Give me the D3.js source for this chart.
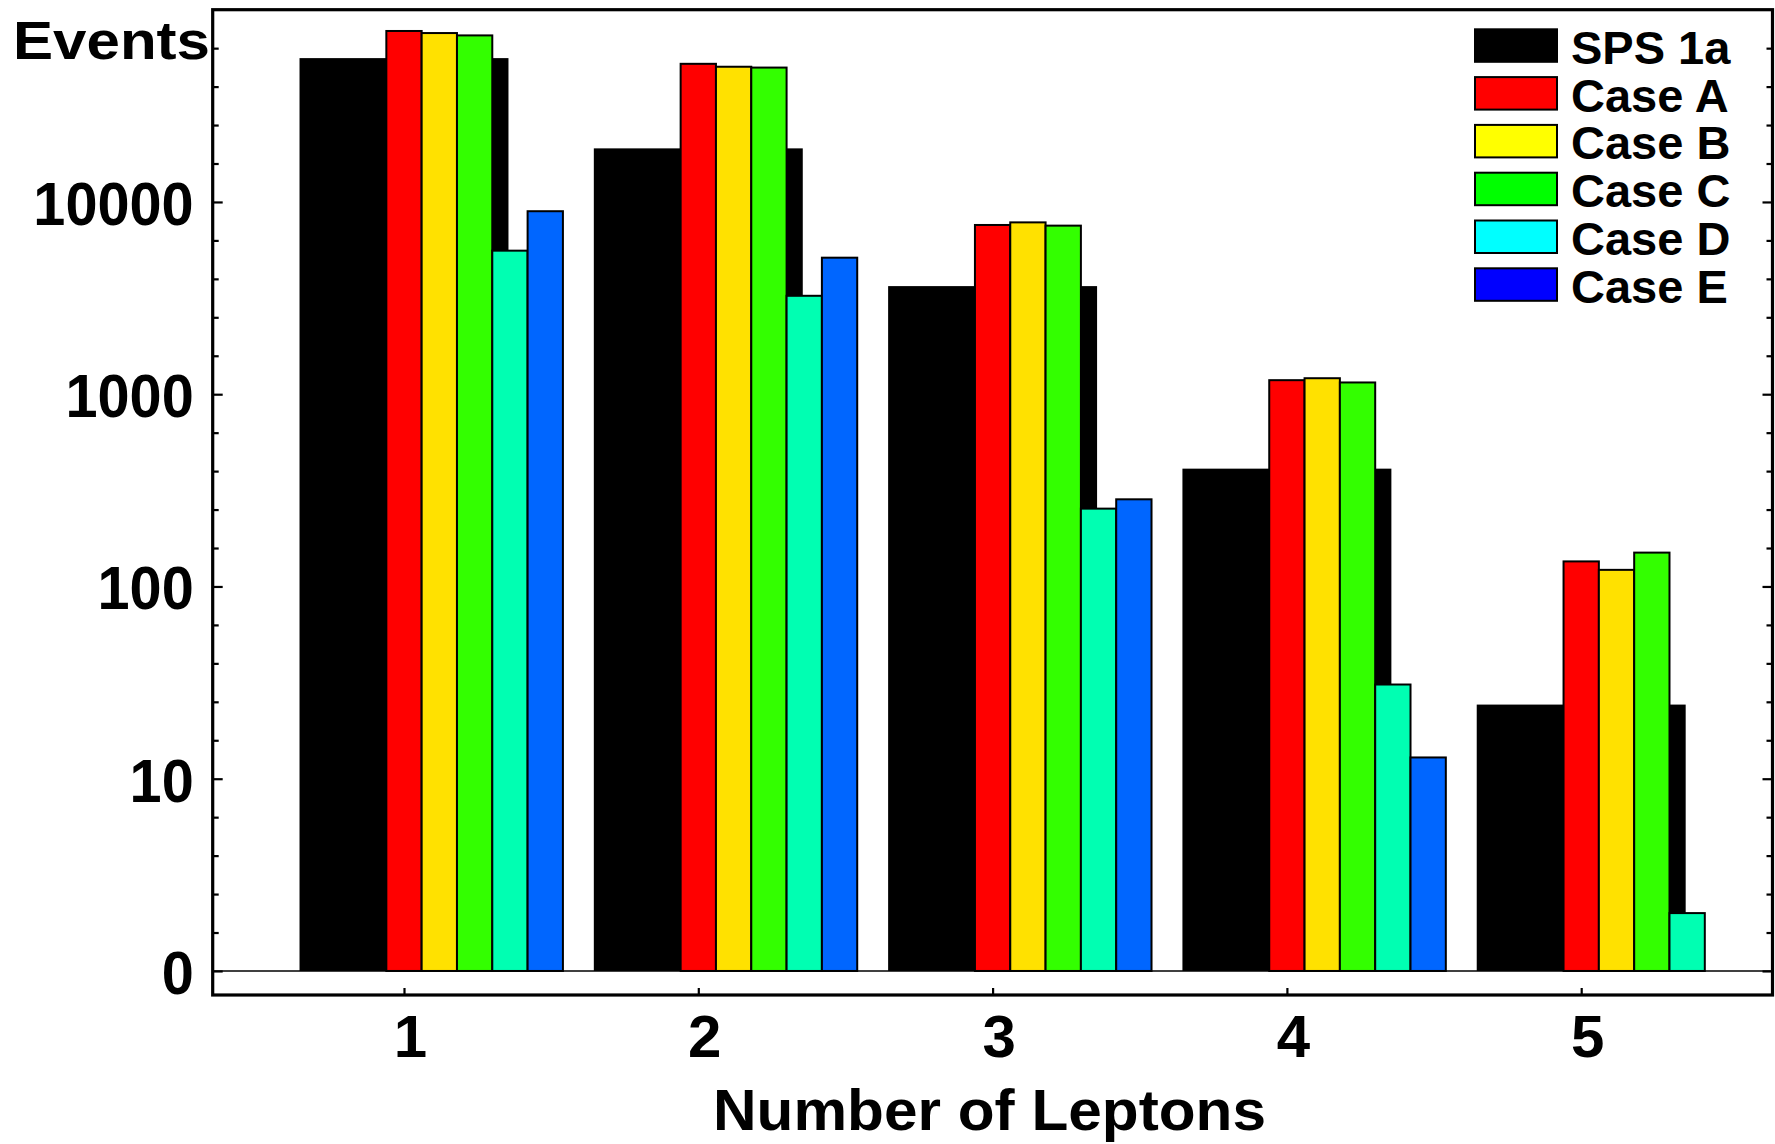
<!DOCTYPE html>
<html>
<head>
<meta charset="utf-8">
<script src="https://cdn.jsdelivr.net/npm/d3@7"></script>
<style>
  html, body { margin: 0; padding: 0; background: #fff; }
  svg { display: block; }
  text { font-family: "Liberation Sans", Arial, Helvetica, sans-serif; font-weight: bold; fill: #000; }
</style>
</head>
<body>
<svg id="chart" width="1775" height="1144"></svg>
<script>
// Lepton multiplicity: number of events per scenario
const leptonCounts = [1, 2, 3, 4, 5];
const seriesNames = ["SPS 1a", "Case A", "Case B", "Case C", "Case D", "Case E"];
const sps1a = [56000, 19000, 3650, 410, 24.3];
const caseA = [77500, 52300, 7590, 1183, 135];
const caseB = [75600, 50500, 7830, 1211, 122];
const caseC = [73500, 50000, 7530, 1151, 150];
const caseD = [5580, 3250, 254, 30.9, 2];
const caseE = [8950, 5130, 284, 12.9, 0];
const yMajorTicks = [1, 10, 100, 1000, 10000];
const yTickLabels = ["0", "10", "100", "1000", "10000"];

// fill colours of the bars and of the legend swatches
const barColors = ["#000000", "#ff0000", "#ffe100", "#33ff00", "#00ffb2", "#0066ff"];
const legendColors = ["#000000", "#ff0000", "#ffff00", "#00ff00", "#00ffff", "#0000ff"];

const svg = d3.select("#chart");
const frame = { left: 212.7, right: 1772.5, top: 9.7, bottom: 995 };

const x = d3.scaleLinear().domain([0.35, 5.65]).range([frame.left, frame.right]);
const y = d3.scaleLog().domain([Math.pow(10, -0.125), 1e5]).range([frame.bottom, frame.top]);

// minor ticks: five per decade, evenly spaced in log
const yMinorTicks = [];
for (let e = 0; e < 5; e++) for (let j = 1; j < 5; j++) yMinorTicks.push(Math.pow(10, e + j / 5));

const blackWidth = 0.71, colWidth = 0.12;

// SPS 1a bars: wide black bars behind the others
svg.append("g").selectAll("rect")
  .data(leptonCounts.map((n, i) => ({ n, v: sps1a[i] })).filter(d => d.v > 1))
  .join("rect")
  .attr("x", d => x(d.n - blackWidth / 2))
  .attr("width", d => x(d.n + blackWidth / 2) - x(d.n - blackWidth / 2))
  .attr("y", d => y(d.v))
  .attr("height", d => y(1) - y(d.v))
  .attr("fill", barColors[0]);

// Cases A-E: narrow outlined bars, side by side starting at the category
const cases = [caseA, caseB, caseC, caseD, caseE];
cases.forEach((vals, s) => {
  svg.append("g").selectAll("rect")
    .data(leptonCounts.map((n, i) => ({ n, v: vals[i] })).filter(d => d.v > 1))
    .join("rect")
    .attr("x", d => x(d.n - colWidth / 2 + s * colWidth))
    .attr("width", d => x(d.n + colWidth / 2 + s * colWidth) - x(d.n - colWidth / 2 + s * colWidth))
    .attr("y", d => y(d.v))
    .attr("height", d => y(1) - y(d.v))
    .attr("fill", barColors[s + 1])
    .attr("stroke", "#000")
    .attr("stroke-width", 2);
});

// zero line
svg.append("line")
  .attr("x1", frame.left).attr("x2", frame.right)
  .attr("y1", y(1)).attr("y2", y(1))
  .attr("stroke", "#000").attr("stroke-width", 1.5);

// axes
function styleAxis(g) {
  g.select(".domain").remove();
  g.selectAll(".tick line").attr("stroke", "#000").attr("stroke-width", 2.2);
}
const fmt = d => yTickLabels[yMajorTicks.indexOf(d)];

svg.append("g")
  .attr("transform", `translate(${frame.left},0)`)
  .call(d3.axisLeft(y).tickValues(yMajorTicks).tickSize(-10).tickPadding(19).tickFormat(fmt))
  .call(styleAxis)
  .call(g => g.selectAll("text")
    .attr("x", 0)
    .attr("transform", "translate(-19,0) scale(0.93,1)")
    .attr("font-size", 62).attr("dy", "0.36em")
    .style("font-family", '"Liberation Sans", Arial, sans-serif').style("font-weight", "bold"));

svg.append("g")
  .attr("transform", `translate(${frame.left},0)`)
  .call(d3.axisLeft(y).tickValues(yMinorTicks).tickSize(-6).tickFormat(""))
  .call(styleAxis);

svg.append("g")
  .attr("transform", `translate(${frame.right},0)`)
  .call(d3.axisRight(y).tickValues(yMajorTicks).tickSize(-10).tickFormat(""))
  .call(styleAxis);

svg.append("g")
  .attr("transform", `translate(${frame.right},0)`)
  .call(d3.axisRight(y).tickValues(yMinorTicks).tickSize(-6).tickFormat(""))
  .call(styleAxis);

svg.append("g")
  .attr("transform", `translate(0,${frame.bottom})`)
  .call(d3.axisBottom(x).tickValues(leptonCounts).tickSize(-7).tickPadding(19.4).tickFormat(d3.format("d")))
  .call(styleAxis)
  .call(g => g.selectAll("text").attr("font-size", 60).attr("dx", 6)
    .style("font-family", '"Liberation Sans", Arial, sans-serif').style("font-weight", "bold"));

// plot frame
svg.append("rect")
  .attr("x", frame.left).attr("y", frame.top)
  .attr("width", frame.right - frame.left).attr("height", frame.bottom - frame.top)
  .attr("fill", "none").attr("stroke", "#000").attr("stroke-width", 3.2);

// axis titles
svg.append("text")
  .attr("x", 13).attr("y", 59.3)
  .attr("font-size", 54)
  .attr("textLength", 197).attr("lengthAdjust", "spacingAndGlyphs")
  .text("Events");

svg.append("text")
  .attr("x", 713).attr("y", 1130)
  .attr("font-size", 58)
  .attr("textLength", 553).attr("lengthAdjust", "spacingAndGlyphs")
  .text("Number of Leptons");

// legend
const legend = svg.append("g").attr("transform", "translate(1475,29.3)");
const rowStep = 47.8;
const rows = legend.selectAll("g").data(seriesNames).join("g")
  .attr("transform", (d, i) => `translate(0,${i * rowStep})`);
rows.append("rect")
  .attr("width", 82).attr("height", 32.5)
  .attr("fill", (d, i) => legendColors[i])
  .attr("stroke", "#000").attr("stroke-width", 2);
rows.append("text")
  .attr("x", 96).attr("y", 34.5)
  .attr("font-size", 47)
  .text(d => d);
</script>
</body>
</html>
